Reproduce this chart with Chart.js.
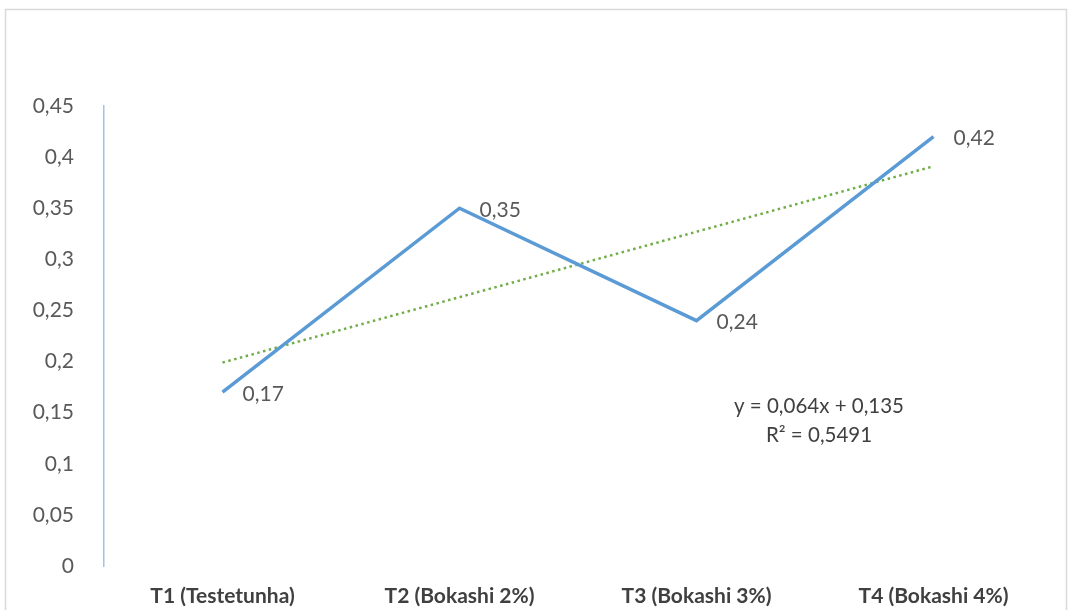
<!DOCTYPE html>
<html>
<head>
<meta charset="utf-8">
<script src="https://cdn.jsdelivr.net/npm/chart.js@4/dist/chart.umd.min.js"></script>
<style>
  html, body { margin: 0; padding: 0; background: #fff; }
  #wrap { position: absolute; left: 0; top: 0; width: 1073px; height: 610px; }
</style>
</head>
<body>
<div id="wrap"><canvas id="myChart" width="1073" height="610"></canvas></div>
<script>
/*global Chart*/

// categories and values
var categories = ["T1 (Testetunha)", "T2 (Bokashi 2%)", "T3 (Bokashi 3%)", "T4 (Bokashi 4%)"];
var values = [0.17, 0.35, 0.24, 0.42];
var valueLabels = ["0,17", "0,35", "0,24", "0,42"];
var trendValues = [0.199, 0.263, 0.327, 0.391];
var yTickLabels = ["0", "0,05", "0,1", "0,15", "0,2", "0,25", "0,3", "0,35", "0,4", "0,45"];
var equationLines = ["y = 0,064x + 0,135", "R\u00b2 = 0,5491"];

var FONT = "Lato, 'Open Sans', sans-serif";

// frame + data labels + trendline equation
var extras = {
    id: "extras",
    beforeDraw: function(chart){
        var ctx = chart.ctx;
        ctx.save();
        ctx.strokeStyle = "#d9d9d9";
        ctx.lineWidth = 1.5;
        ctx.strokeRect(5.5, 9.5, 1061, 620);
        ctx.restore();
    },
    afterDatasetsDraw: function(chart){
        var ctx = chart.ctx;
        var meta = chart.getDatasetMeta(0);
        ctx.save();
        ctx.font = "21px " + FONT;
        ctx.fillStyle = "#595959";
        ctx.textAlign = "left";
        ctx.textBaseline = "middle";
        meta.data.forEach(function(pt, i){
            ctx.fillText(valueLabels[i], pt.x + 20, pt.y + 2);
        });
        var xs = chart.scales.x, ys = chart.scales.y;
        var cx = (xs.getPixelForValue(2) + xs.getPixelForValue(3)) / 2 + 4;
        var cy = ys.getPixelForValue(0.155) - 1;
        ctx.font = "20.5px " + FONT;
        ctx.fillStyle = "#404040";
        ctx.textAlign = "center";
        ctx.fillText(equationLines[0], cx, cy);
        ctx.fillText(equationLines[1], cx, cy + 29);
        ctx.restore();
    }
};

var data = {
    labels: categories,
    datasets: [
        {
            label: "Valores",
            data: values,
            borderColor: "#5B9BD5",
            borderWidth: 3.5,
            pointRadius: 0,
            fill: false,
            tension: 0,
            order: 1
        },
        {
            label: "Linear",
            data: trendValues,
            borderColor: "#70AD47",
            borderWidth: 2.5,
            borderDash: [2.5, 3.5],
            pointRadius: 0,
            fill: false,
            tension: 0,
            order: 2
        }
    ]
};

var options = {
    responsive: false,
    animation: false,
    layout: { padding: { top: 106, right: 21, left: 0, bottom: 0 } },
    plugins: {
        legend: { display: false },
        tooltip: { enabled: false }
    },
    scales: {
        x: {
            offset: true,
            grid: { display: false },
            border: { display: false },
            ticks: {
                font: { family: FONT, size: 21, weight: "bold" },
                color: "#404040",
                padding: 10,
                maxRotation: 0
            },
            afterFit: function(scale){ scale.height = 44; }
        },
        y: {
            min: 0,
            max: 0.45,
            grid: { display: false },
            border: { display: true, color: "#9DC3E6", width: 1.5 },
            ticks: {
                stepSize: 0.05,
                font: { family: FONT, size: 21 },
                color: "#595959",
                padding: 22,
                callback: function(value, index){ return yTickLabels[index]; }
            },
            afterFit: function(scale){ scale.width = 104; }
        }
    }
};

var ctx = document.getElementById("myChart");
var chart = new Chart(ctx, {
    type: "line",
    data: data,
    options: options,
    plugins: [extras]
});
</script>
</body>
</html>
